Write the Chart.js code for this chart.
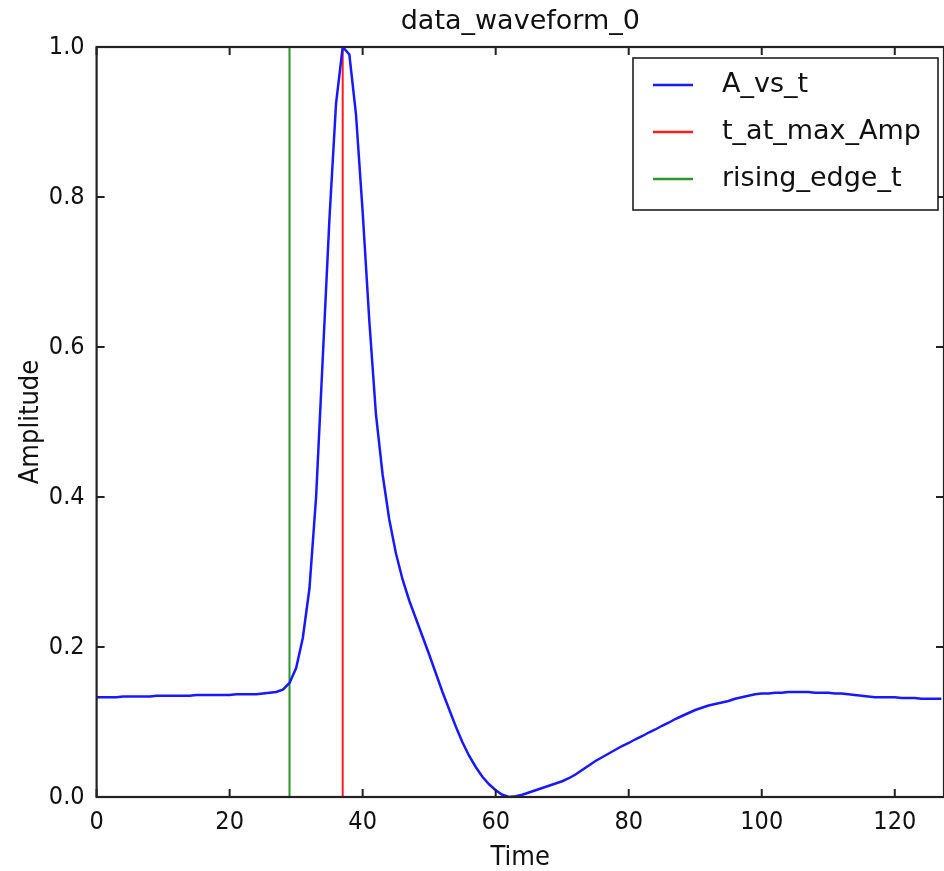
<!DOCTYPE html>
<html>
<head>
<meta charset="utf-8">
<script src="https://cdn.jsdelivr.net/npm/chart.js@4.4.1/dist/chart.umd.min.js"></script>
<style>
  html, body { margin: 0; padding: 0; background: #fff; }
  #wrap { width: 944px; height: 871px; }
</style>
</head>
<body>
<div id="wrap"><canvas id="waveChart"></canvas></div>
<script>
// amplitude per sample (time = sample index)
const amplitude = [
  0.133, 0.133, 0.133, 0.133, 0.134, 0.134, 0.134, 0.134, 0.134, 0.135,
  0.135, 0.135, 0.135, 0.135, 0.135, 0.136, 0.136, 0.136, 0.136, 0.136,
  0.136, 0.137, 0.137, 0.137, 0.137, 0.138, 0.139, 0.140, 0.143, 0.152,
  0.172, 0.212, 0.278, 0.400, 0.585, 0.770, 0.925, 1.000, 0.990, 0.910,
  0.780, 0.635, 0.510, 0.430, 0.370, 0.325, 0.290, 0.262, 0.238, 0.214,
  0.190, 0.165, 0.140, 0.117, 0.094, 0.073, 0.055, 0.040, 0.027, 0.017,
  0.009, 0.003, 0.000, 0.001, 0.003, 0.006, 0.009, 0.012, 0.015, 0.018,
  0.021, 0.025, 0.030, 0.036, 0.042, 0.048, 0.053, 0.058, 0.063, 0.068,
  0.072, 0.077, 0.081, 0.086, 0.090, 0.095, 0.099, 0.104, 0.108, 0.112,
  0.116, 0.119, 0.122, 0.124, 0.126, 0.128, 0.131, 0.133, 0.135, 0.137,
  0.138, 0.138, 0.139, 0.139, 0.140, 0.140, 0.140, 0.140, 0.139, 0.139,
  0.139, 0.138, 0.138, 0.137, 0.136, 0.135, 0.134, 0.133, 0.133, 0.133,
  0.133, 0.132, 0.132, 0.132, 0.131, 0.131, 0.131, 0.131
];
const tAtMaxAmp = 37;
const risingEdgeT = 29;
const xTicks = [0, 20, 40, 60, 80, 100, 120];
const yTicks = [0, 0.2, 0.4, 0.6, 0.8, 1.0];
const seriesNames = ['A_vs_t', 't_at_max_Amp', 'rising_edge_t'];

const tickFont = { family: "'DejaVu Sans Condensed', 'DejaVu Sans'", size: 25 };
const labelFont = { family: "'DejaVu Sans Condensed', 'DejaVu Sans'", size: 27, lineHeight: 1 };

// box around plot, inward ticks, legend
const frame = {
    id: 'frame',
    afterDraw(chart) {
        const { ctx, chartArea: a, scales } = chart;
        ctx.save();
        ctx.strokeStyle = '#222';
        ctx.lineWidth = 2;
        ctx.beginPath();
        scales.x.ticks.forEach(t => {
            const px = scales.x.getPixelForValue(t.value);
            ctx.moveTo(px, a.bottom); ctx.lineTo(px, a.bottom - 8);
            ctx.moveTo(px, a.top); ctx.lineTo(px, a.top + 8);
        });
        scales.y.ticks.forEach(t => {
            const py = scales.y.getPixelForValue(t.value);
            ctx.moveTo(a.left, py); ctx.lineTo(a.left + 8, py);
            ctx.moveTo(a.right, py); ctx.lineTo(a.right - 8, py);
        });
        ctx.stroke();
        ctx.lineWidth = 2.2;
        ctx.strokeRect(a.left, a.top, a.right - a.left, a.bottom - a.top);

        // legend
        const lx = a.right - 311, ly = a.top + 11, lw = 305, lh = 152;
        ctx.fillStyle = '#fff';
        ctx.fillRect(lx, ly, lw, lh);
        ctx.lineWidth = 1.5;
        ctx.strokeStyle = '#111';
        ctx.strokeRect(lx, ly, lw, lh);
        ctx.font = "27px 'DejaVu Sans'";
        ctx.textBaseline = 'middle';
        chart.data.datasets.forEach((ds, i) => {
            const y = ly + 27 + i * 47;
            ctx.strokeStyle = ds.borderColor;
            ctx.lineWidth = 2.5;
            ctx.beginPath();
            ctx.moveTo(lx + 20, y); ctx.lineTo(lx + 60, y);
            ctx.stroke();
            ctx.fillStyle = '#111';
            ctx.fillText(ds.label, lx + 89, y);
        });
        ctx.restore();
    }
};

new Chart(document.getElementById('waveChart'), {
    type: 'line',
    data: {
        datasets: [
            {
                label: seriesNames[0],
                data: amplitude.map((v, i) => ({ x: i, y: v })),
                borderColor: 'rgb(25,25,255)',
                borderWidth: 2.5,
                pointRadius: 0,
                tension: 0
            },
            {
                label: seriesNames[1],
                data: [{ x: tAtMaxAmp, y: 0 }, { x: tAtMaxAmp, y: 1 }],
                borderColor: 'rgb(255,30,30)',
                borderWidth: 2,
                pointRadius: 0
            },
            {
                label: seriesNames[2],
                data: [{ x: risingEdgeT, y: 0 }, { x: risingEdgeT, y: 1 }],
                borderColor: 'rgb(40,150,40)',
                borderWidth: 2,
                pointRadius: 0
            }
        ]
    },
    options: {
        responsive: true,
        maintainAspectRatio: false,
        animation: false,
        layout: { padding: { left: 0, right: 0, top: 0, bottom: 0 } },
        plugins: {
            legend: { display: false },
            tooltip: { enabled: false },
            title: {
                display: true,
                text: 'data_waveform_0',
                fullSize: false,
                color: '#111',
                font: { family: "'DejaVu Sans'", size: 27, weight: 'normal', lineHeight: 1.2 },
                padding: { top: 6, bottom: 8.6 }
            }
        },
        scales: {
            x: {
                type: 'linear',
                min: 0,
                max: 127.4,
                afterBuildTicks: s => { s.ticks = xTicks.map(v => ({ value: v })); },
                afterFit: s => { s.height = 74; },
                grid: { display: false, drawTicks: false },
                border: { display: false },
                ticks: { font: tickFont, color: '#111', padding: 10, maxRotation: 0 },
                title: {
                    display: true, text: 'Time', color: '#111',
                    font: labelFont, padding: { top: 0, bottom: 0 }
                }
            },
            y: {
                min: 0,
                max: 1,
                afterBuildTicks: s => { s.ticks = yTicks.map(v => ({ value: v })); },
                afterFit: s => { s.width = 96.6; },
                grid: { display: false, drawTicks: false },
                border: { display: false },
                ticks: {
                    font: tickFont, color: '#111', padding: 12,
                    callback: v => v.toFixed(1)
                },
                title: {
                    display: true, text: 'Amplitude', color: '#111',
                    font: labelFont, padding: { top: 17, bottom: 0 }
                }
            }
        }
    },
    plugins: [frame]
});
</script>
</body>
</html>
